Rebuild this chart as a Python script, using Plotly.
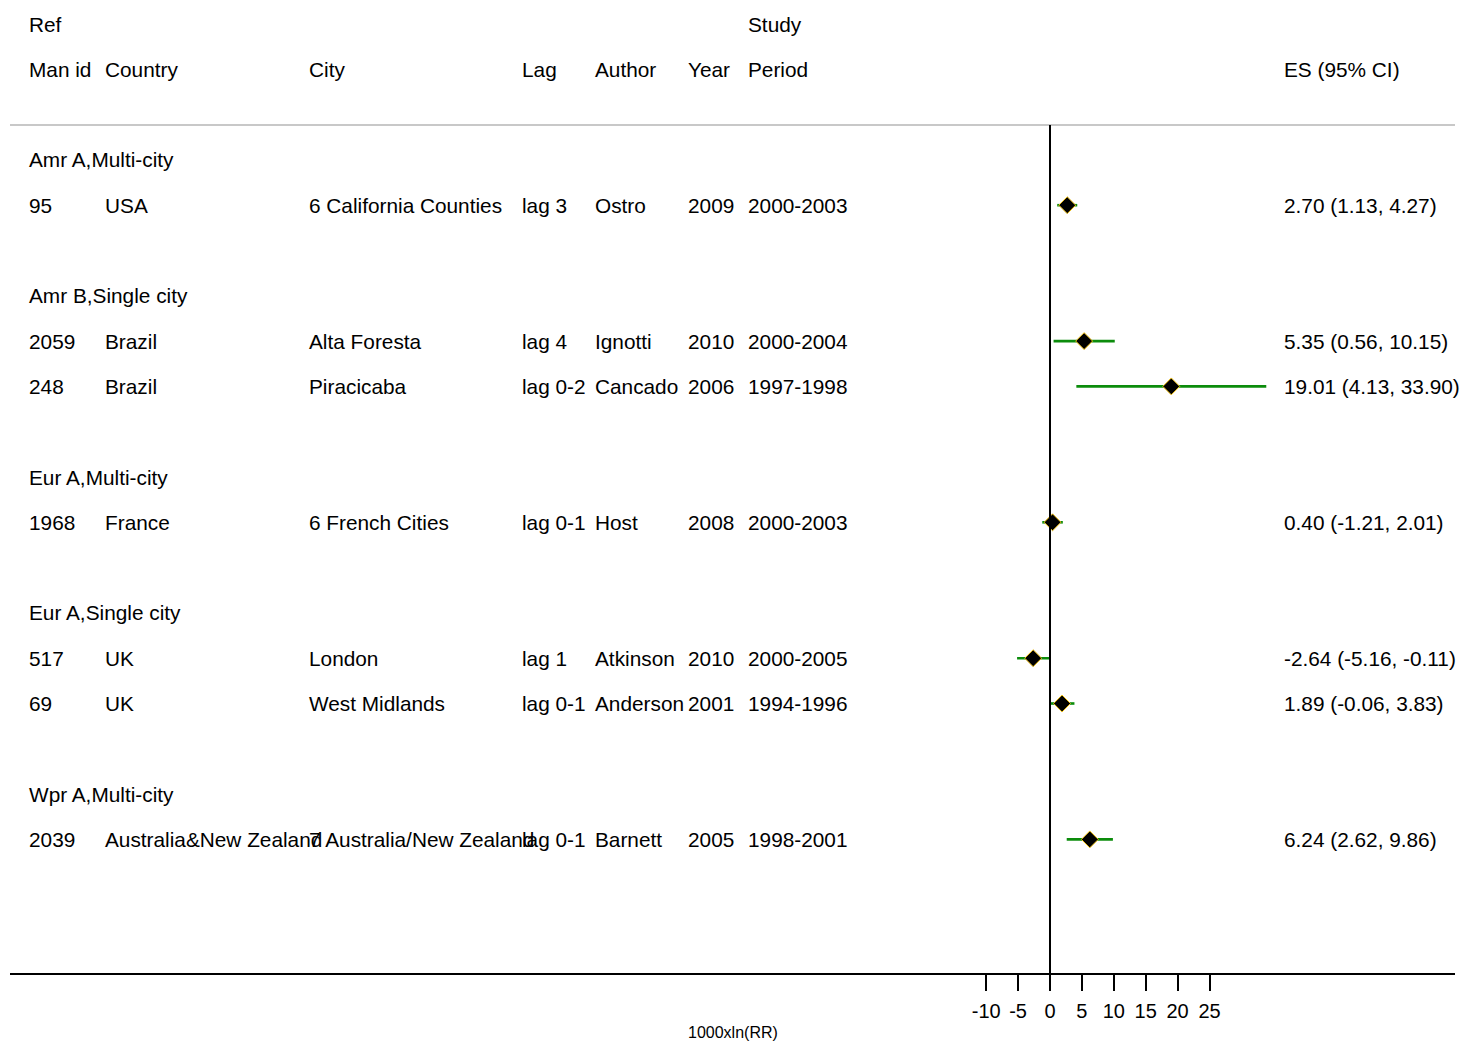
import plotly.graph_objects as go

# ---- data ----
group_labels = ["Amr A,Multi-city", "Amr B,Single city", "Eur A,Multi-city",
                "Eur A,Single city", "Wpr A,Multi-city"]
group_rows = [3, 6, 10, 13, 17]

study_rows = [4, 7, 8, 11, 14, 15, 18]
man_id = ["95", "2059", "248", "1968", "517", "69", "2039"]
country = ["USA", "Brazil", "Brazil", "France", "UK", "UK", "Australia&New Zealand"]
city = ["6 California Counties", "Alta Foresta", "Piracicaba", "6 French Cities",
        "London", "West Midlands", "7 Australia/New Zealand"]
lag = ["lag 3", "lag 4", "lag 0-2", "lag 0-1", "lag 1", "lag 0-1", "lag 0-1"]
author = ["Ostro", "Ignotti", "Cancado", "Host", "Atkinson", "Anderson", "Barnett"]
year = ["2009", "2010", "2006", "2008", "2010", "2001", "2005"]
period = ["2000-2003", "2000-2004", "1997-1998", "2000-2003", "2000-2005",
          "1994-1996", "1998-2001"]
es = [2.70, 5.35, 19.01, 0.40, -2.64, 1.89, 6.24]
lo = [1.13, 0.56, 4.13, -1.21, -5.16, -0.06, 2.62]
hi = [4.27, 10.15, 33.90, 2.01, -0.11, 3.83, 9.86]

xticks = [-10, -5, 0, 5, 10, 15, 20, 25]

# ---- layout geometry (window pixels; body margin removed below) ----
W, H = 1463, 1042
AXIS_Y = 974                # bottom axis line in figure pixels
B = H - AXIS_Y
PH = AXIS_Y
X0PX, PXU = 1050, 6.38
ROW0, ROWH = 24, 45.3

FONT = "Liberation Sans, Arial, sans-serif"
FS = 20.8

def px(p):
    """window x pixel -> paper x"""
    return p / W

def ypaper(p):
    """window y pixel -> paper y"""
    return (PH - p) / PH

fig = go.Figure()

fig.add_trace(go.Scatter(
    x=es, y=study_rows, mode="markers",
    marker=dict(symbol="diamond", size=13, color="black",
                line=dict(color="#f5c518", width=1)),
    error_x=dict(type="data", symmetric=False,
                 array=[h - e for h, e in zip(hi, es)],
                 arrayminus=[e - l for e, l in zip(es, lo)],
                 color="#0c8c0c", thickness=2.6, width=0),
    hoverinfo="skip", showlegend=False))

ann = []
def txt(x, y, s, size=FS):
    ann.append(dict(x=px(x - 2), y=y, xref="paper", yref="y", text=s,
                    showarrow=False, xanchor="left", yanchor="middle",
                    font=dict(family=FONT, size=size, color="black")))

# headers
txt(29, 0, "Ref")
txt(748, 0, "Study")
for x, s in [(29, "Man id"), (105, "Country"), (309, "City"), (522, "Lag"),
             (595, "Author"), (688, "Year"), (748, "Period"), (1284, "ES (95% CI)")]:
    txt(x, 1, s)

for r, g in zip(group_rows, group_labels):
    txt(29, r, g)

cols = [(29, man_id), (105, country), (309, city), (522, lag),
        (595, author), (688, year), (748, period)]
for i, r in enumerate(study_rows):
    for x, arr in cols:
        txt(x, r, arr[i])
    txt(1284, r, f"{es[i]:.2f} ({lo[i]:.2f}, {hi[i]:.2f})")

ann.append(dict(x=px(733), y=ypaper(1032), xref="paper", yref="paper",
                text="1000xln(RR)", showarrow=False, xanchor="center",
                yanchor="middle", font=dict(family=FONT, size=16, color="black")))

shapes = [
    dict(type="line", xref="paper", yref="paper", x0=px(10), x1=px(1455),
         y0=ypaper(125), y1=ypaper(125), line=dict(color="#c8c8c8", width=2)),
    dict(type="line", xref="x", yref="paper", x0=0, x1=0,
         y0=0, y1=ypaper(125), line=dict(color="black", width=2)),
    dict(type="line", xref="paper", yref="paper", x0=px(10), x1=px(1455),
         y0=0, y1=0, line=dict(color="black", width=2)),
]

fig.update_layout(
    width=W, height=H,
    margin=dict(l=0, r=0, t=0, b=B, pad=0),
    paper_bgcolor="white", plot_bgcolor="white",
    annotations=ann, shapes=shapes,
    xaxis=dict(range=[-X0PX / PXU, (W - X0PX) / PXU], showgrid=False,
               zeroline=False, showline=False, tickmode="array",
               tickvals=xticks, ticktext=[str(t) for t in xticks],
               ticks="outside", ticklen=16, tickwidth=2, tickcolor="black",
               ticklabelstandoff=3,
               tickfont=dict(family=FONT, size=20, color="black")),
    yaxis=dict(range=[(PH - ROW0) / ROWH, -ROW0 / ROWH], showgrid=False,
               zeroline=False, showline=False, showticklabels=False, ticks=""),
)

fig.write_html(
    "out.html",
    config={"displayModeBar": False},
    post_script="document.body.style.margin='0px';"
                "document.body.style.overflow='hidden';",
)
